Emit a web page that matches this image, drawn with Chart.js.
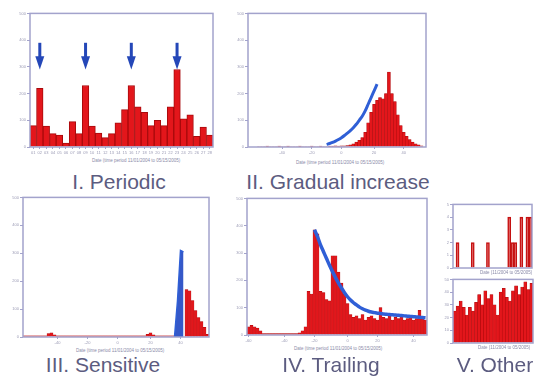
<!DOCTYPE html>
<html>
<head>
<meta charset="utf-8">
<script src="https://cdn.jsdelivr.net/npm/chart.js@4/dist/chart.umd.min.js"></script>
<style>
  body { margin: 0; background: #fff; width: 539px; height: 378px; overflow: hidden; position: relative;
         font-family: "Liberation Sans", Arial, sans-serif; }
  .panel { position: absolute; }
  .lbl { position: absolute; color: #5c5c80; font-size: 21px; white-space: nowrap; transform: translateX(-50%); line-height: 21px; }
  .cap { position: absolute; color: #8a8aa8; font-size: 4.5px; white-space: nowrap; line-height: 5px; }
</style>
</head>
<body>
<div class="panel" id="p1"><canvas id="c1"></canvas></div>
<div class="panel" id="p2"><canvas id="c2"></canvas></div>
<div class="panel" id="p3"><canvas id="c3"></canvas></div>
<div class="panel" id="p4"><canvas id="c4"></canvas></div>
<div class="panel" id="p5"><canvas id="c5"></canvas></div>
<div class="panel" id="p6"><canvas id="c6"></canvas></div>

<div class="cap" style="left:92px;top:158px">Date (time period 11/01/2004 to 05/15/2005)</div>
<div class="cap" style="left:296px;top:160px">Date (time period 11/01/2004 to 05/15/2005)</div>
<div class="cap" style="left:76px;top:348px">Date (time period 11/01/2004 to 05/15/2005)</div>
<div class="cap" style="left:294px;top:346px">Date (time period 11/01/2004 to 05/15/2005)</div>
<div class="cap" style="left:480px;top:270px">Date (11/2004 to 05/2005)</div>
<div class="cap" style="left:478px;top:345px">Date (11/2004 to 05/2005)</div>

<div class="lbl" style="left:119px;top:171px">I. Periodic</div>
<div class="lbl" style="left:338px;top:171px">II. Gradual increase</div>
<div class="lbl" style="left:103px;top:354px">III. Sensitive</div>
<div class="lbl" style="left:331px;top:354px">IV. Trailing</div>
<div class="lbl" style="left:495px;top:354px">V. Other</div>

<script>
// ---- data ----
const periodicLabels = ['01','02','03','04','05','06','07','08','09','10','11','12','13','14',
                        '15','16','17','18','19','20','21','22','23','24','25','26','27','28'];
const periodicCounts = [80, 220, 78, 50, 45, 15, 95, 50, 230, 78, 52, 35, 50, 90,
                        140, 230, 150, 130, 80, 100, 80, 150, 290, 105, 120, 40, 75, 45];
const periodicArrowBins = [1, 8, 15, 22];
const periodicArrowFrom = 390;
const periodicArrowTo = 290;

const gradualCounts = [0, 0, 0, 2, 2, 2, 3, 2, 2, 2,
                       3, 2, 2, 3, 2, 2, 2, 3, 2, 2,
                       2, 3, 2, 2, 3, 2, 2, 3, 3, 4,
                       3, 4, 4, 5, 8, 12, 18, 25, 35, 55,
                       90, 130, 160, 175, 185, 180, 200, 280, 200, 170,
                       120, 80, 55, 40, 28, 18, 12, 8, 4, 0];
const gradualFit = [null, null, null, null, null, null, null, null, null, null,
                    null, null, null, null, null, null, null, null, null, null,
                    null, null, null, null, null, null, 10, 13, 17, 22,
                    28, 35, 43, 52, 61, 72, 85, 100, 115, 135,
                    160, 185, 210, 235, null, null, null, null, null, null,
                    null, null, null, null, null, null, null, null, null, null];
const gradualTicks = { 11: '-40', 21: '-20', 31: '0', 42: '20', 52: '40' };

const sensitiveCounts = [4, 4, 4, 4, 4, 4, 4, 4, 12, 15,
                         8, 4, 4, 4, 4, 4, 4, 4, 4, 4,
                         4, 4, 4, 4, 4, 4, 4, 4, 4, 4,
                         4, 4, 4, 4, 4, 4, 4, 4, 4, 4,
                         4, 10, 15, 8, 4, 4, 4, 4, 4, 4,
                         4, 0, 0, 0, 170, 165, 130, 95, 70, 55,
                         35, 10];
const sensitiveFit = [null, null, null, null, null, null, null, null, null, null,
                      null, null, null, null, null, null, null, null, null, null,
                      null, null, null, null, null, null, null, null, null, null,
                      null, null, null, null, null, null, null, null, null, null,
                      null, null, null, null, null, null, null, null, null, null,
                      0, 130, 310, 305, null, null, null, null, null, null,
                      null, null];
const sensitiveTicks = { 11: '-40', 21: '-20', 31: '0', 42: '20', 52: '40' };

const trailingCounts = [30, 35, 30, 25, 15, 5, 5, 5, 5, 5,
                        5, 5, 5, 5, 5, 5, 5, 8, 15, 30,
                        160, 150, 385, 370, 160, 155, 130, 125, 290, 290,
                        230, 190, 150, 115, 75, 65, 70, 60, 75, 55,
                        65, 70, 60, 55, 100, 65, 60, 70, 55, 65,
                        60, 70, 55, 60, 65, 55, 60, 90, 60, 55];
const trailingFit = [null, null, null, null, null, null, null, null, null, null,
                     null, null, null, null, null, null, null, null, null, null,
                     null, null, 385, 360, 330, 305, 280, 255, 232, 210,
                     190, 172, 155, 140, 128, 118, 110, 102, 96, 91,
                     87, 84, 82, 80, 79, 77, 76, 75, 74, 73,
                     72, 71, 70, 69, 68, 67, 66, 65, 64, 63];
const trailingTicks = { 0: '-60', 12: '-40', 22: '-20', 33: '0', 43: '20', 55: '40' };

const otherTopCounts = [0, 2, 0, 0, 0, 0, 2, 0, 0, 0, 0, 2, 0, 0, 0, 0, 0, 0, 4, 2, 2, 0, 4, 0, 4, 4];
const otherBottomCounts = [25, 29, 33, 28, 22, 28, 25, 32, 38, 30, 41, 35, 38,
                           30, 22, 40, 43, 36, 33, 41, 45, 38, 44, 48, 42, 47];

// ---- styling ----
const RED = '#e3161b';
const DARKRED = '#a80a0c';
const BLUE = '#2f5fd6';
const FRAME = '#a3a3cc';
const Y_W = 14;
const X_H = 9;

const boxPlugin = {
  id: 'box',
  afterDraw(chart) {
    const a = chart.chartArea, c = chart.ctx;
    c.save();
    c.strokeStyle = FRAME;
    c.lineWidth = 1.5;
    c.strokeRect(a.left, a.top, a.right - a.left, a.bottom - a.top);
    c.restore();
  }
};

const arrowPlugin = {
  id: 'arrows',
  afterDatasetsDraw(chart) {
    const x = chart.scales.x, y = chart.scales.y, c = chart.ctx;
    c.save();
    c.fillStyle = '#2447b8';
    periodicArrowBins.forEach(b => {
      const px = x.getPixelForValue(b);
      const top = y.getPixelForValue(periodicArrowFrom);
      const tip = y.getPixelForValue(periodicArrowTo);
      const head = (tip - top) * 0.5;
      c.fillRect(px - 1.5, top, 3, tip - top - head + 1);
      c.beginPath();
      c.moveTo(px - 4.5, tip - head);
      c.lineTo(px + 4.5, tip - head);
      c.lineTo(px, tip);
      c.closePath();
      c.fill();
    });
    c.restore();
  }
};

// place the div so that the plot area lands on the given box
function place(id, L, T, R, B) {
  const d = document.getElementById(id);
  d.style.left = (L - Y_W) + 'px';
  d.style.top = (T - 2) + 'px';
  d.style.width = (R - L + Y_W + 2) + 'px';
  d.style.height = (B - T + X_H + 2) + 'px';
}

function binLabels(n) {
  return Array.from({ length: n }, (_, i) => String(i));
}

function makeChart(canvasId, labels, datasets, yMax, tickMap, plugins) {
  const tickFont = { family: 'Liberation Sans', size: 4 };
  return new Chart(document.getElementById(canvasId).getContext('2d'), {
    type: 'bar',
    data: { labels: labels, datasets: datasets },
    options: {
      responsive: true,
      maintainAspectRatio: false,
      animation: false,
      layout: { padding: { top: 2, right: 2, left: 0, bottom: 0 }, autoPadding: false },
      plugins: { legend: { display: false }, tooltip: { enabled: false } },
      scales: {
        x: {
          afterFit: s => { s.height = X_H; },
          grid: {
            offset: false,
            drawOnChartArea: false,
            tickLength: 2,
            color: ctx => (tickMap === null || tickMap[ctx.index] !== undefined) ? FRAME : 'rgba(0,0,0,0)'
          },
          border: { display: false },
          ticks: {
            autoSkip: false,
            maxRotation: 0,
            padding: 1,
            color: '#9a9ab4',
            font: tickFont,
            callback: (v, i) => tickMap === null ? labels[i] : (tickMap[i] || '')
          }
        },
        y: {
          min: 0,
          max: yMax,
          afterFit: s => { s.width = Y_W; },
          grid: { drawOnChartArea: false, tickLength: 3, color: FRAME },
          border: { display: false },
          ticks: { stepSize: yMax / 5, padding: 1, color: '#9a9ab4', font: tickFont }
        }
      }
    },
    plugins: [boxPlugin].concat(plugins || [])
  });
}

function bars(values, opts) {
  return Object.assign({
    type: 'bar',
    data: values,
    backgroundColor: RED,
    borderColor: DARKRED,
    borderWidth: 0,
    barPercentage: 1,
    categoryPercentage: 1,
    order: 2
  }, opts || {});
}

function fitLine(values, opts) {
  return Object.assign({
    type: 'line',
    data: values,
    borderColor: BLUE,
    borderWidth: 3,
    pointRadius: 0,
    tension: 0.3,
    spanGaps: false,
    fill: false,
    order: 1
  }, opts || {});
}

// panel boxes (plot area in page pixels)
place('p1', 30, 12, 213, 147);
place('p2', 248, 12, 426, 147);
place('p3', 23, 196, 209, 337);
place('p4', 247, 197, 427, 335);
place('p5', 453, 203, 532, 268);
place('p6', 453, 278, 533, 343);

makeChart('c1', periodicLabels,
  [bars(periodicCounts, { borderWidth: 1 })], 500, null, [arrowPlugin]);

makeChart('c2', binLabels(gradualCounts.length),
  [fitLine(gradualFit), bars(gradualCounts, { borderWidth: 0.5 })], 500, gradualTicks);

makeChart('c3', binLabels(sensitiveCounts.length),
  [fitLine(sensitiveFit, { fill: 'origin', backgroundColor: '#3558c8', borderWidth: 1.5, tension: 0 }),
   bars(sensitiveCounts, { borderWidth: 0.5 })], 500, sensitiveTicks);

makeChart('c4', binLabels(trailingCounts.length),
  [fitLine(trailingFit, { borderWidth: 3.5 }), bars(trailingCounts, { borderWidth: 0.5 })], 500, trailingTicks);

makeChart('c5', binLabels(otherTopCounts.length),
  [bars(otherTopCounts, { backgroundColor: 'rgba(225,60,60,0.3)', borderColor: '#c41010', borderWidth: 1 })],
  5, {});

makeChart('c6', binLabels(otherBottomCounts.length),
  [bars(otherBottomCounts, { borderWidth: 0.5 })], 50, {});
</script>
</body>
</html>
